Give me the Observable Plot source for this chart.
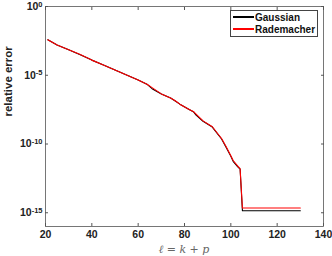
<!DOCTYPE html>
<html><head><meta charset="utf-8">
<script src="https://cdn.jsdelivr.net/npm/d3@7"></script>
<script src="https://cdn.jsdelivr.net/npm/@observablehq/plot@0.6"></script>
<style>
body{margin:0;background:#fff;}
#wrap{position:relative;width:332px;height:256px;font-family:"Liberation Sans",Arial,sans-serif;}
#legend{position:absolute;left:230px;top:10px;width:88px;height:27px;border:0.8px solid #444;background:#fff;font-weight:bold;font-size:10px;box-sizing:border-box;color:#111;}
.row{position:absolute;left:2px;height:12px;display:flex;align-items:center;}
.sw{width:21px;height:1.4px;margin-right:1px;}
#xl{position:absolute;left:0;width:368px;top:243px;text-align:center;font-family:"DejaVu Serif","Liberation Serif",serif;font-style:italic;font-size:11px;color:#666;}
</style></head><body>
<div id="wrap"></div>
<script>
const ell = [21,25,30,35,40,45,50,55,60,64,66,70,74,76,78,82,84,85,88,92,96,98,100,101,103,104,105,110,120,130];
const rademacher = [3.8e-3,1.58e-3,7.1e-4,3.2e-4,1.26e-4,5.6e-5,2.4e-5,1.05e-5,4.5e-6,2.1e-6,1.25e-6,4.4e-7,2.2e-7,1.4e-7,7.9e-8,3.2e-8,2.2e-8,1.5e-8,4.8e-9,1.8e-9,2.5e-10,6.3e-11,1.4e-11,6.3e-12,2.5e-12,1.6e-12,2.2e-15,2.2e-15,2.2e-15,2.2e-15];
const gaussian = [3.8e-3,1.58e-3,7.1e-4,3.1e-4,1.26e-4,5.5e-5,2.4e-5,1.05e-5,4.5e-6,2.1e-6,1.05e-6,4.3e-7,2.2e-7,1.35e-7,7.9e-8,3.2e-8,2.1e-8,1.25e-8,4.5e-9,1.7e-9,2.3e-10,5.5e-11,1.3e-11,5.5e-12,2.2e-12,1.5e-12,1.4e-15,1.4e-15,1.4e-15,1.4e-15];
const xTicks = [20,40,60,80,100,120,140];
const yTicks = [1e0,1e-5,1e-10,1e-15];
const series = [
  {name:"Gaussian", color:"#000000", values:gaussian},
  {name:"Rademacher", color:"#ff0000", values:rademacher}
];
const rows = series.flatMap(s => ell.map((x,i)=>({x, y:s.values[i], name:s.name})));

const axisColor = "#555";
const plot = Plot.plot({
  width:332, height:256,
  marginLeft:45, marginRight:9, marginTop:6, marginBottom:30,
  style:{fontFamily:"Liberation Sans, Arial, sans-serif", fontSize:"10.5px", fontWeight:"bold", color:"#222", background:"#fff"},
  x:{domain:[20,140]},
  y:{type:"log", domain:[1e-16,1]},
  marks:[
    Plot.frame({stroke:axisColor, strokeWidth:0.8}),
    Plot.axisX({ticks:xTicks, tickSize:-3, tickPadding:7, stroke:axisColor, label:null, tickFormat:d=>String(d), fill:"#222"}),
    Plot.axisX({ticks:xTicks, anchor:"top", tickSize:-3, text:null, stroke:axisColor, label:null}),
    Plot.axisY({ticks:yTicks, tickSize:-3, tickPadding:6, stroke:axisColor, label:null, tickFormat:d=>"E"+Math.round(Math.log10(d)), fill:"#222", className:"yax"}),
    Plot.axisY({ticks:yTicks, anchor:"right", tickSize:-3, text:null, stroke:axisColor, label:null}),
    Plot.line(rows.filter(r=>r.name==="Gaussian"), {x:"x", y:"y", stroke:series[0].color, strokeWidth:1.1}),
    Plot.line(rows.filter(r=>r.name==="Rademacher"), {x:"x", y:"y", stroke:series[1].color, strokeWidth:1.1}),
    Plot.text(["relative error"], {frameAnchor:"left", dx:-37, rotate:-90, text:d=>d, fontSize:11.5, fontWeight:"bold", fill:"#222"})
  ]
});
d3.select(plot).selectAll(".yax text").each(function(){
  const t = d3.select(this); const s = t.text();
  if(s.startsWith("E")){
    const e = s.slice(1);
    t.text(null);
    t.append("tspan").text("10");
    t.append("tspan").attr("dy","-0.45em").attr("font-size","7.5px").text(e);
  }
});
const wrap = document.getElementById("wrap");
wrap.appendChild(plot);
const lg = document.createElement("div"); lg.id="legend";
series.forEach((s,i)=>{
  const r=document.createElement("div"); r.className="row"; r.style.top=(i*12)+"px";
  const sw=document.createElement("div"); sw.className="sw"; sw.style.background=s.color;
  const tx=document.createElement("span"); tx.textContent=s.name;
  r.appendChild(sw); r.appendChild(tx); lg.appendChild(r);
});
wrap.appendChild(lg);
const xl=document.createElement("div"); xl.id="xl"; xl.textContent="ℓ = k + p"; wrap.appendChild(xl);
</script></body></html>
